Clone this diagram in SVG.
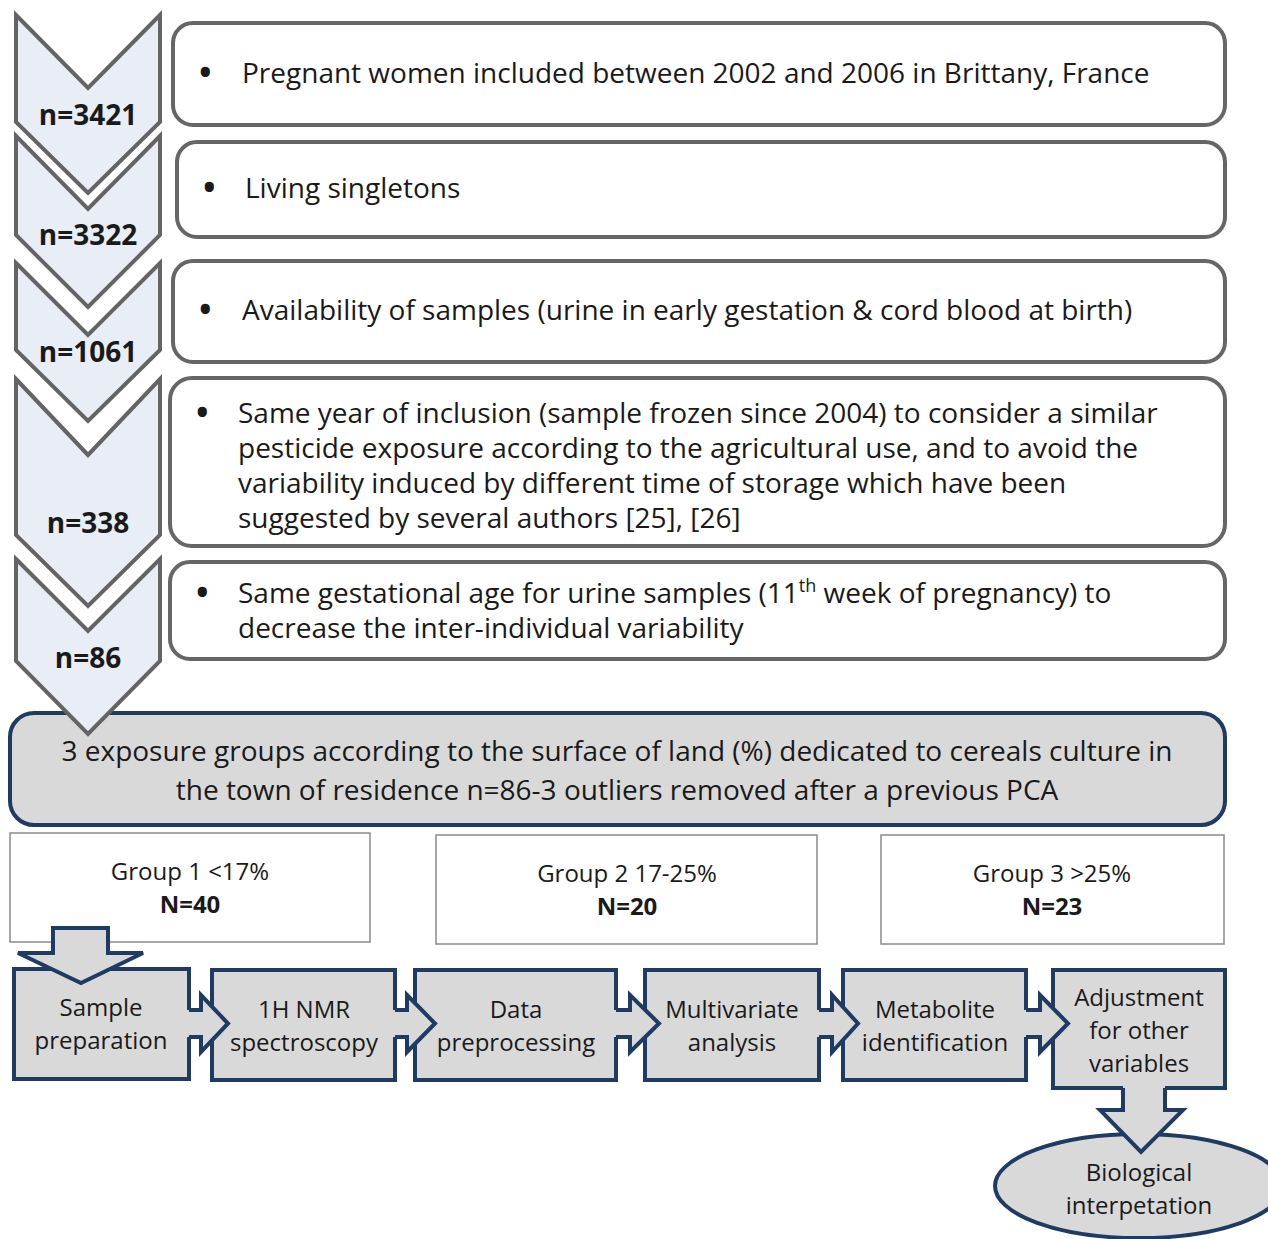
<svg xmlns="http://www.w3.org/2000/svg" width="1268" height="1239" viewBox="0 0 1268 1239">
<style>
text{font-family:"Open Sans","Liberation Sans",sans-serif;fill:#1a1a1a}
.chev{fill:#e9eef6;stroke:#646464;stroke-width:4;stroke-linejoin:miter}
.nlab{font-size:28px;font-weight:bold;text-anchor:middle}
.crit{fill:#fff;stroke:#666;stroke-width:4}
.ct{font-size:28px}
.bul{font-size:44px}
.big{fill:#d9d9d9;stroke:#1f3b63;stroke-width:4}
.grp{fill:#fff;stroke:#8a8a8a;stroke-width:1.5}
.gt{font-size:24px;text-anchor:middle}
.gb{font-size:24px;font-weight:bold;text-anchor:middle}
.proc{fill:#d9d9d9;stroke:#1f3b63;stroke-width:4;stroke-linejoin:miter}
.pt{font-size:24px;text-anchor:middle}
.afill{fill:#d9d9d9;stroke:none}
.aline{fill:none;stroke:#1f3b63;stroke-width:4;stroke-linejoin:miter}
</style>
<rect width="1268" height="1239" fill="#fff"/>

<g id="criteria">
<g id="crit1"><rect class="crit" x="173" y="23" width="1052" height="102" rx="20"/>
<text class="bul" x="197" y="88">•</text><text class="ct" x="242" y="83">Pregnant women included between 2002 and 2006 in Brittany, France</text></g>
<g id="crit2"><rect class="crit" x="177" y="142" width="1048" height="95" rx="20"/>
<text class="bul" x="201" y="203">•</text><text class="ct" x="245" y="198">Living singletons</text></g>
<g id="crit3"><rect class="crit" x="173" y="261" width="1052" height="101" rx="20"/>
<text class="bul" x="197" y="325">•</text><text class="ct" x="242" y="320">Availability of samples (urine in early gestation &amp; cord blood at birth)</text></g>
<g id="crit4"><rect class="crit" x="170" y="378" width="1055" height="168" rx="22"/>
<text class="bul" x="194" y="428">•</text>
<text class="ct" x="238" y="423">Same year of inclusion (sample frozen since 2004) to consider a similar</text>
<text class="ct" x="238" y="458">pesticide exposure according to the agricultural use, and to avoid the</text>
<text class="ct" x="238" y="493">variability induced by different time of storage which have been</text>
<text class="ct" x="238" y="528">suggested by several authors [25], [26]</text></g>
<g id="crit5"><rect class="crit" x="170" y="562" width="1055" height="97" rx="20"/>
<text class="bul" x="194" y="608">•</text>
<text class="ct" x="238" y="603">Same gestational age for urine samples (11<tspan font-size="18" dy="-11">th</tspan><tspan dy="11"> week of pregnancy) to</tspan></text>
<text class="ct" x="238" y="638">decrease the inter-individual variability</text></g>
</g>

<g id="groups-box">
<rect class="big" x="10" y="713" width="1215" height="112" rx="24"/>
<text class="ct" x="617" y="761" text-anchor="middle">3 exposure groups according to the surface of land (%) dedicated to cereals culture in</text>
<text class="ct" x="617" y="800" text-anchor="middle">the town of residence n=86-3 outliers removed after a previous PCA</text>
</g>

<g id="chevrons">
<g id="chev1"><path class="chev" d="M16,15 L88,88 L160,15 L160,122 L88,193 L16,122 Z"/><text class="nlab" x="88" y="125">n=3421</text></g>
<g id="chev2"><path class="chev" d="M16,136 L88,209 L160,136 L160,235 L88,307 L16,235 Z"/><text class="nlab" x="88" y="245">n=3322</text></g>
<g id="chev3"><path class="chev" d="M16,263 L88,335 L160,263 L160,350 L88,421 L16,350 Z"/><text class="nlab" x="88" y="362">n=1061</text></g>
<g id="chev4"><path class="chev" d="M16,379 L88,455 L160,379 L160,535 L88,606 L16,535 Z"/><text class="nlab" x="88" y="533">n=338</text></g>
<g id="chev5"><path class="chev" d="M16,559 L88,631 L160,559 L160,661 L88,734 L16,661 Z"/><text class="nlab" x="88" y="668">n=86</text></g>
</g>

<g id="group1"><rect class="grp" x="10" y="833" width="360" height="109"/>
<text class="gt" x="190" y="880">Group 1 &lt;17%</text><text class="gb" x="190" y="913">N=40</text></g>
<g id="group2"><rect class="grp" x="436" y="835" width="381" height="109"/>
<text class="gt" x="627" y="882">Group 2 17-25%</text><text class="gb" x="627" y="915">N=20</text></g>
<g id="group3"><rect class="grp" x="881" y="835" width="343" height="109"/>
<text class="gt" x="1052" y="882">Group 3 &gt;25%</text><text class="gb" x="1052" y="915">N=23</text></g>

<g id="step1"><rect class="proc" x="14" y="969" width="175" height="110"/>
<text class="pt" x="101" y="1016">Sample</text><text class="pt" x="101" y="1049">preparation</text></g>
<g id="step2"><rect class="proc" x="212" y="970" width="183" height="110"/>
<text class="pt" x="304" y="1018">1H NMR</text><text class="pt" x="304" y="1051">spectroscopy</text></g>
<g id="step3"><rect class="proc" x="415" y="970" width="201" height="110"/>
<text class="pt" x="516" y="1018">Data</text><text class="pt" x="516" y="1051">preprocessing</text></g>
<g id="step4"><rect class="proc" x="645" y="970" width="174" height="110"/>
<text class="pt" x="732" y="1018">Multivariate</text><text class="pt" x="732" y="1051">analysis</text></g>
<g id="step5"><rect class="proc" x="843" y="970" width="183" height="110"/>
<text class="pt" x="935" y="1018">Metabolite</text><text class="pt" x="935" y="1051">identification</text></g>
<g id="step6"><rect class="proc" x="1053" y="970" width="172" height="118"/>
<text class="pt" x="1139" y="1006">Adjustment</text><text class="pt" x="1139" y="1039">for other</text><text class="pt" x="1139" y="1072">variables</text></g>
<g id="result"><ellipse class="proc" cx="1139" cy="1186" rx="144" ry="52"/>
<text class="pt" x="1139" y="1181">Biological</text><text class="pt" x="1139" y="1214">interpetation</text></g>

<g id="connectors">
<path class="afill" d="M53,928 L108,928 L108,953 L143,953 L81,983 L18,953 L53,953 Z"/>
<path class="aline" d="M53,928 L108,928 L108,953 L143,953 L81,983 L18,953 L53,953 Z"/>

<path class="afill" d="M185,1010 L201,1010 L201,995 L228,1023.5 L201,1052 L201,1037 L185,1037 Z"/>
<path class="aline" d="M189,1010 L201,1010 L201,995 L228,1023.5 L201,1052 L201,1037 L189,1037"/>

<path class="afill" d="M391,1010 L407,1010 L407,995 L435,1023.5 L407,1052 L407,1037 L391,1037 Z"/>
<path class="aline" d="M395,1010 L407,1010 L407,995 L435,1023.5 L407,1052 L407,1037 L395,1037"/>

<path class="afill" d="M612,1010 L630,1010 L630,995 L659,1023.5 L630,1052 L630,1037 L612,1037 Z"/>
<path class="aline" d="M616,1010 L630,1010 L630,995 L659,1023.5 L630,1052 L630,1037 L616,1037"/>

<path class="afill" d="M815,1010 L832,1010 L832,995 L858,1023.5 L832,1052 L832,1037 L815,1037 Z"/>
<path class="aline" d="M819,1010 L832,1010 L832,995 L858,1023.5 L832,1052 L832,1037 L819,1037"/>

<path class="afill" d="M1022,1010 L1040,1010 L1040,995 L1068,1023.5 L1040,1052 L1040,1037 L1022,1037 Z"/>
<path class="aline" d="M1026,1010 L1040,1010 L1040,995 L1068,1023.5 L1040,1052 L1040,1037 L1026,1037"/>

<path class="afill" d="M1123,1084 L1165,1084 L1165,1110 L1183,1110 L1141,1152 L1100,1110 L1123,1110 Z"/>
<path class="aline" d="M1123,1088 L1123,1110 L1100,1110 L1141,1152 L1183,1110 L1165,1110 L1165,1088"/>
</g>
</svg>
